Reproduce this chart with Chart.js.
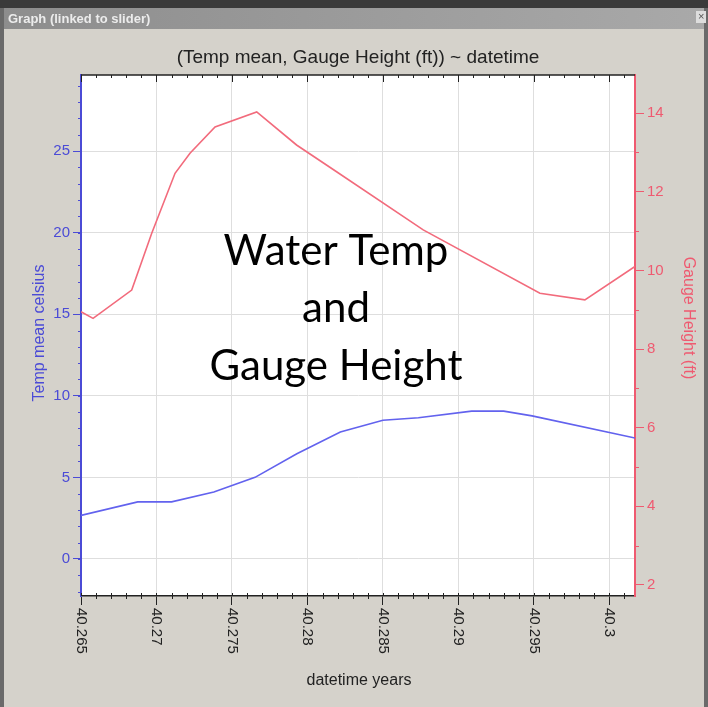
<!DOCTYPE html>
<html>
<head>
<meta charset="utf-8">
<script src="https://cdn.jsdelivr.net/npm/chart.js@4/dist/chart.umd.min.js"></script>
<style>
  html, body { margin: 0; padding: 0; background: #d5d2cb; }
  canvas { display: block; }
</style>
</head>
<body>
<canvas id="graph" width="708" height="707"></canvas>
<script>
// Data (datetime years vs temp / gauge height)
const tempX = [40.265, 40.26876, 40.2710, 40.2738, 40.27653, 40.2793, 40.28218, 40.285, 40.28735, 40.29088, 40.293, 40.29488, 40.3017];
const tempY = [2.67, 3.5, 3.5, 4.1, 5.0, 6.45, 7.78, 8.5, 8.65, 9.06, 9.06, 8.77, 7.41];

const gaugeX = [40.265, 40.2658, 40.26836, 40.26968, 40.27123, 40.27222, 40.27388, 40.27664, 40.27928, 40.28193, 40.28767, 40.2954, 40.29838, 40.3017];
const gaugeY = [8.95, 8.78, 9.5, 10.94, 12.47, 12.98, 13.65, 14.03, 13.19, 12.51, 11.03, 9.42, 9.25, 10.1];

const xTicks = [40.265, 40.27, 40.275, 40.28, 40.285, 40.29, 40.295, 40.3];
const xTickLabels = ['40.265', '40.27', '40.275', '40.28', '40.285', '40.29', '40.295', '40.3'];
const tempTicks = [0, 5, 10, 15, 20, 25];
const gaugeTicks = [2, 4, 6, 8, 10, 12, 14];

const BLUE = '#4b4bd6';
const RED = '#ef5a70';
const GRID = '#dedede';

// window frame, title, extra ticks and labels
const chromePlugin = {
    id: 'chrome',
    beforeDraw(chart) {
        const { ctx, chartArea: a } = chart;
        ctx.save();
        ctx.fillStyle = '#d5d2cb';
        ctx.fillRect(0, 0, 708, 707);
        // top strip + title bar
        ctx.fillStyle = '#3a3a3a';
        ctx.fillRect(0, 0, 708, 8);
        const g = ctx.createLinearGradient(0, 0, 708, 0);
        g.addColorStop(0, '#8d8d8d');
        g.addColorStop(1, '#a9a9a9');
        ctx.fillStyle = g;
        ctx.fillRect(0, 8, 708, 21);
        ctx.fillStyle = '#6a6a6a';
        ctx.fillRect(0, 8, 4, 699);
        ctx.fillRect(704, 8, 4, 699);
        ctx.fillStyle = '#ececec';
        ctx.font = 'bold 13px "Liberation Sans", Arial, sans-serif';
        ctx.textBaseline = 'middle';
        ctx.fillText('Graph (linked to slider)', 8, 19);
        ctx.fillStyle = '#dddddd';
        ctx.fillRect(696, 11, 10, 12);
        ctx.fillStyle = '#555';
        ctx.font = '11px "Liberation Sans", Arial, sans-serif';
        ctx.fillText('×', 698, 17);
        // plot area
        ctx.fillStyle = '#ffffff';
        ctx.fillRect(a.left, a.top, a.right - a.left, a.bottom - a.top);
        // chart title
        ctx.fillStyle = '#222';
        ctx.font = '19px "Liberation Sans", Arial, sans-serif';
        ctx.textAlign = 'center';
        ctx.fillText('(Temp mean, Gauge Height (ft)) ~ datetime', 358, 58);
        ctx.restore();
    },
    afterDraw(chart) {
        const { ctx, chartArea: a, scales } = chart;
        const x = scales.x, y = scales.y, y1 = scales.y1;
        ctx.save();
        // top axis
        ctx.strokeStyle = '#222';
        ctx.lineWidth = 1.5;
        ctx.beginPath();
        ctx.moveTo(a.left, a.top);
        ctx.lineTo(a.right, a.top);
        ctx.stroke();
        ctx.lineWidth = 1;
        ctx.beginPath();
        for (let v = 40.265; v <= 40.3017; v += 0.001) {
            const px = Math.round(x.getPixelForValue(v)) + 0.5;
            const major = xTicks.some(t => Math.abs(t - v) < 1e-6);
            const len = major ? 7 : 3;
            ctx.moveTo(px, a.top);
            ctx.lineTo(px, a.top + len);
            ctx.moveTo(px, a.bottom - 3);
            ctx.lineTo(px, a.bottom + (major ? 0 : 3));
        }
        ctx.stroke();
        // minor ticks on left / right axes
        ctx.strokeStyle = BLUE;
        ctx.beginPath();
        for (let v = -2; v <= 29; v++) {
            const py = Math.round(y.getPixelForValue(v)) + 0.5;
            ctx.moveTo(a.left - 3, py);
            ctx.lineTo(a.left, py);
        }
        ctx.stroke();
        ctx.strokeStyle = RED;
        ctx.beginPath();
        for (let v = 3; v <= 14; v += 2) {
            const py = Math.round(y1.getPixelForValue(v)) + 0.5;
            ctx.moveTo(a.right, py);
            ctx.lineTo(a.right + 4, py);
        }
        ctx.stroke();
        // x tick labels, rotated clockwise
        ctx.fillStyle = '#222';
        ctx.font = '15px "Liberation Sans", Arial, sans-serif';
        ctx.textAlign = 'left';
        ctx.textBaseline = 'middle';
        xTicks.forEach((v, i) => {
            ctx.save();
            ctx.translate(x.getPixelForValue(v), a.bottom + 12);
            ctx.rotate(Math.PI / 2);
            ctx.fillText(xTickLabels[i], 0, 0);
            ctx.restore();
        });
        // axis titles
        ctx.textAlign = 'center';
        ctx.font = '16px "Liberation Sans", Arial, sans-serif';
        ctx.fillText('datetime years', (a.left + a.right) / 2 + 1, 681);
        ctx.save();
        ctx.fillStyle = BLUE;
        ctx.translate(40, 333);
        ctx.rotate(-Math.PI / 2);
        ctx.fillText('Temp mean celsius', 0, 0);
        ctx.restore();
        ctx.save();
        ctx.fillStyle = RED;
        ctx.translate(688, 318);
        ctx.rotate(Math.PI / 2);
        ctx.fillText('Gauge Height (ft)', 0, 0);
        ctx.restore();
        // overlay caption
        ctx.fillStyle = '#000';
        ctx.font = '42px Lato, "Open Sans", sans-serif';
        ctx.textBaseline = 'alphabetic';
        ctx.fillText('Water Temp', 336, 265);
        ctx.fillText('and', 336, 322);
        ctx.fillText('Gauge Height', 336, 380);
        ctx.restore();
    }
};

const pts = (xs, ys) => xs.map((v, i) => ({ x: v, y: ys[i] }));

new Chart(document.getElementById('graph'), {
    type: 'line',
    data: {
        datasets: [{
            label: 'Temp mean celsius',
            data: pts(tempX, tempY),
            yAxisID: 'y',
            borderColor: '#6262ee',
            borderWidth: 1.6,
            pointRadius: 0,
            tension: 0
        }, {
            label: 'Gauge Height (ft)',
            data: pts(gaugeX, gaugeY),
            yAxisID: 'y1',
            borderColor: '#f26b7c',
            borderWidth: 1.6,
            pointRadius: 0,
            tension: 0
        }]
    },
    options: {
        responsive: false,
        animation: false,
        layout: { padding: { top: 75, left: 0, right: 0, bottom: 0 } },
        plugins: { legend: { display: false }, tooltip: { enabled: false } },
        scales: {
            x: {
                type: 'linear',
                min: 40.265,
                max: 40.3017,
                afterBuildTicks: s => { s.ticks = xTicks.map(v => ({ value: v })); },
                afterFit: s => { s.height = 111; },
                ticks: { display: false },
                grid: { color: GRID, tickColor: '#222', tickLength: 9 },
                border: { color: '#222', width: 1.5 }
            },
            y: {
                position: 'left',
                min: -2.27,
                max: 29.66,
                afterBuildTicks: s => { s.ticks = tempTicks.map(v => ({ value: v })); },
                afterFit: s => { s.width = 81; },
                ticks: { color: BLUE, padding: 3, font: { family: '"Liberation Sans", Arial', size: 15 } },
                grid: { color: GRID, tickColor: BLUE, tickLength: 8 },
                border: { color: BLUE, width: 2 }
            },
            y1: {
                position: 'right',
                min: 1.72,
                max: 14.97,
                afterBuildTicks: s => { s.ticks = gaugeTicks.map(v => ({ value: v })); },
                afterFit: s => { s.width = 73; },
                ticks: { color: RED, padding: 3, font: { family: '"Liberation Sans", Arial', size: 15 } },
                grid: { drawOnChartArea: false, tickColor: RED, tickLength: 9 },
                border: { color: RED, width: 2 }
            }
        }
    },
    plugins: [chromePlugin]
});
</script>
</body>
</html>
